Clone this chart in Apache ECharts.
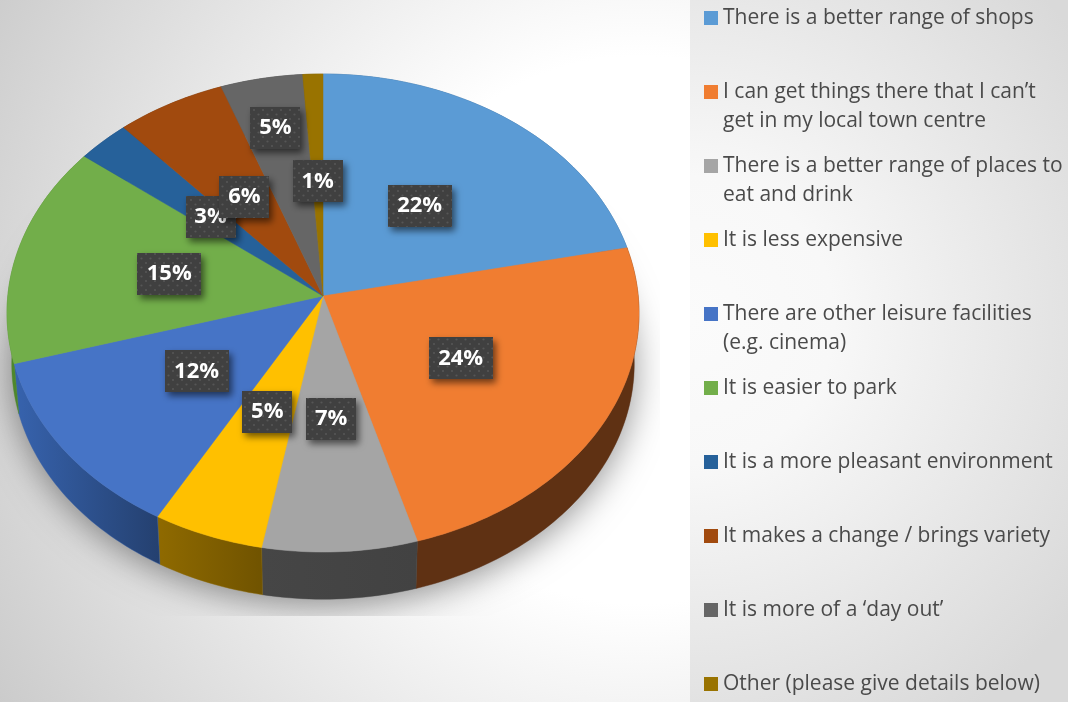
<!DOCTYPE html>
<html><head><meta charset="utf-8">
<style>html,body{margin:0;padding:0;background:#fff}#c{width:1068px;height:702px}</style>
<script src="https://cdn.jsdelivr.net/npm/echarts@6/dist/echarts.min.js"></script>
</head><body><div id="c"></div>
<script>
// ---- data ----
const categories = [
  'There is a better range of shops',
  'I can get things there that I can’t\nget in my local town centre',
  'There is a better range of places to\neat and drink',
  'It is less expensive',
  'There are other leisure facilities\n(e.g. cinema)',
  'It is easier to park',
  'It is a more pleasant environment',
  'It makes a change / brings variety',
  'It is more of a ‘day out’',
  'Other (please give details below)'
];
const shares = [21.7, 23.8, 7.4, 5.3, 12.3, 15.0, 2.9, 6.0, 4.5, 1.1];

// ---- styles / layout ----
const topColors = ['#5b9bd5','#f07d31','#a5a5a5','#ffc000','#4674c6','#72ae4a','#26619a','#a14a0e','#666666','#997300'];
const wallColors = [
  ['#2f5f8a','#2f5f8a'],['#5f3113','#5f3113'],['#464646','#424242'],['#8f6a00','#705300'],
  ['#3763ae','#24406f'],['#4f8a2c','#3f6f25'],['#1c4a75','#1c4a75'],['#6b3109','#6b3109'],
  ['#444444','#444444'],['#6b5000','#6b5000']
];
const labelRadii = [.5,.5,.5,.5,.5,.5,.5,.5,.76,.5];
const pie = {cx:323, cy:296, a:315.2, b:237.8, k:0.0712, depth:51, baseScale:0.985};
const bgGrad = {type:'radial', global:true, x:640, y:330, r:760,
  colorStops:[{offset:0,color:'#ffffff'},{offset:.36,color:'#ffffff'},{offset:1,color:'#c9c9c9'}]};
const panelGrad = {type:'radial', global:true, x:690, y:320, r:480,
  colorStops:[{offset:0,color:'#fbfbfb'},{offset:.3,color:'#f8f8f8'},{offset:1,color:'#d9d9d9'}]};

// cumulative boundaries of each slice, in percent of the full circle
const sum = shares.reduce((s,v)=>s+v,0);
let run = 0;
const ranges = shares.map(v => { const r=[run/sum*100,(run+v)/sum*100,v]; run+=v; return r; });

function project(pct, r){
  const t = pct/100*2*Math.PI, s=Math.sin(t)*r, c=Math.cos(t)*r, w=1+pie.k*c;
  return [pie.cx+pie.a*s/w, pie.cy-pie.b*c/w];
}
function toBase(p){
  return [pie.cx+(p[0]-pie.cx)*pie.baseScale, pie.cy+pie.depth+(p[1]-pie.cy)*pie.baseScale];
}
function arc(p0,p1){
  const n=Math.max(2,Math.ceil((p1-p0)*3)), out=[];
  for(let i=0;i<=n;i++) out.push(project(p0+(p1-p0)*i/n,1));
  return out;
}
function hGrad(c){return {type:'linear',x:0,y:0,x2:1,y2:0,colorStops:[{offset:0,color:c[0]},{offset:1,color:c[1]}]};}

const dotted = document.createElement('canvas');
dotted.width=dotted.height=9;
(function(){
  const g=dotted.getContext('2d');
  g.fillStyle='#404040';g.fillRect(0,0,9,9);
  g.fillStyle='#565656';
  [[2,2],[6.5,6.5]].forEach(p=>{g.beginPath();g.arc(p[0],p[1],1.1,0,7);g.fill();});
})();

const sliceSeries = categories.map((name,i)=>({
  name, type:'custom', coordinateSystem:'none', z:3, silent:true, animation:false,
  itemStyle:{color:topColors[i]},
  data:[ranges[i]],
  renderItem(params,api){
    const a=arc(api.value(0),api.value(1));
    const wall=a.concat(a.map(toBase).reverse());
    const top=[[pie.cx,pie.cy]].concat(a);
    return {type:'group',children:[
      {type:'polygon',z2:1,shape:{points:wall},style:{fill:hGrad(wallColors[i]),stroke:wallColors[i][0],lineWidth:.4}},
      {type:'polygon',z2:2,shape:{points:top},style:{fill:topColors[i],stroke:topColors[i],lineWidth:.5}}
    ]};
  }
}));

const shadowSeries = {
  type:'custom', name:'shadow', coordinateSystem:'none', z:1, silent:true, animation:false,
  data:[[0,100]],
  renderItem(params,api){
    const pts=arc(api.value(0),api.value(1)).map(toBase);
    return {type:'polygon',shape:{points:pts},style:{fill:'#999',shadowBlur:34,shadowColor:'rgba(0,0,0,.42)',shadowOffsetX:0,shadowOffsetY:6}};
  }
};

const labelSeries = {
  type:'custom', name:'labels', coordinateSystem:'none', z:5, silent:true, animation:false,
  data:ranges,
  renderItem(params,api){
    const i=params.dataIndex, mid=(api.value(0)+api.value(1))/2, c=project(mid,labelRadii[i]);
    const txt=Math.round(api.value(2))+'%', w=txt.length>2?64:50, h=42;
    return {type:'group',children:[
      {type:'rect',z2:10+i*2,shape:{x:Math.round(c[0]-w/2),y:Math.round(c[1]-h/2),width:w,height:h},
       style:{fill:{image:dotted,repeat:'repeat'},shadowBlur:7,shadowOffsetX:3,shadowOffsetY:4,shadowColor:'rgba(0,0,0,.55)'}},
      {type:'text',z2:11+i*2,style:{x:c[0],y:c[1],text:txt,fill:'#fff',align:'center',verticalAlign:'middle',
        font:'bold 22px "Open Sans", sans-serif'}}
    ]};
  }
};

const oneLineIcon='rect';
const twoLineIcon='path://M0 0L14 0M0 7.5L14 7.5L14 21.5L0 21.5ZM0 58L14 58';
const legends = categories.map((name,i)=>{
  const two=name.indexOf('\n')>=0;
  return {
    data:[{name,icon:two?twoLineIcon:oneLineIcon}],
    left:704, top:18+74*i-14.5, padding:0, orient:'vertical', selectedMode:false, z:6,
    itemWidth:14, itemHeight:two?58:14,
    textStyle:{color:'#4a4a4a',fontFamily:'"Open Sans", sans-serif',fontSize:21,lineHeight:29,padding:0}
  };
});

const chart=echarts.init(document.getElementById('c'),null,{renderer:'canvas'});
chart.setOption({
  animation:false,
  tooltip:{show:false},
  legend:legends,
  graphic:{elements:[
    {type:'rect',z:0,shape:{x:0,y:0,width:690,height:702},style:{fill:bgGrad},silent:true},
    {type:'rect',z:2,shape:{x:0,y:616,width:690,height:86},style:{fill:bgGrad},silent:true},
    {type:'rect',z:2,shape:{x:660,y:0,width:30,height:616},style:{fill:bgGrad},silent:true},
    {type:'rect',z:2,shape:{x:690,y:0,width:378,height:702},style:{fill:panelGrad},silent:true}
  ]},
  series:[shadowSeries].concat(sliceSeries,[labelSeries])
});
</script></body></html>
